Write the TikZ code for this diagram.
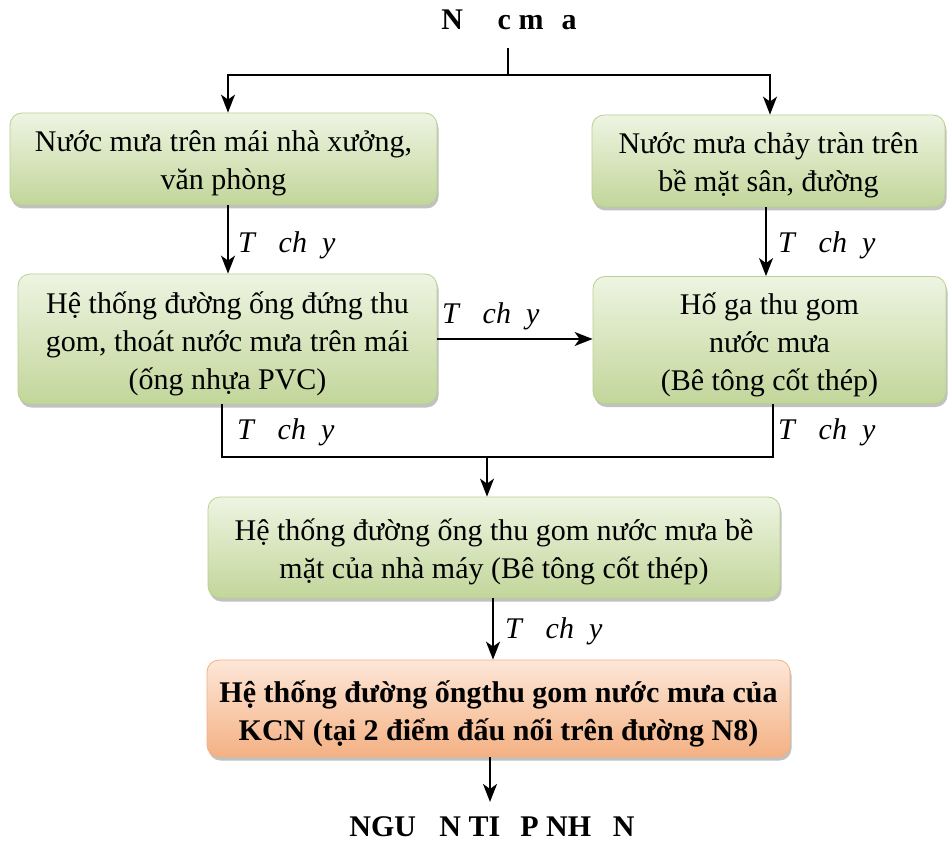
\documentclass[tikz,border=0pt]{standalone}
\usepackage{fontspec}
\setmainfont{Liberation Serif}
\usetikzlibrary{arrows.meta,shadows,calc}

\definecolor{gtop}{HTML}{EEF4E2}
\definecolor{gbot}{HTML}{C2D69A}
\definecolor{gedge}{HTML}{B9D090}
\definecolor{otop}{HTML}{FDE7D8}
\definecolor{obot}{HTML}{F4B183}
\definecolor{oedge}{HTML}{F2B084}

\tikzset{
  boxbase/.style={rounded corners=12pt, inner sep=0pt, line width=0.8pt,
    drop shadow={shadow xshift=1.5pt, shadow yshift=-3.5pt, opacity=0.35, fill=black!70}},
  greenbox/.style={boxbase, draw=gedge, top color=gtop, bottom color=gbot},
  orangebox/.style={boxbase, draw=oedge, top color=otop, bottom color=obot},
  boxtext/.style={align=center, inner sep=0pt, font=\fontsize{30}{38}\selectfont},
  boldtext/.style={boxtext, font=\fontsize{30}{38}\selectfont\bfseries},
  ttl/.style={font=\fontsize{30}{36}\selectfont\bfseries, inner sep=0pt},
  flowlab/.style={font=\fontsize{30}{36}\selectfont\itshape, anchor=base west, inner sep=0pt},
  ln/.style={line width=1.8pt},
  arr/.style={ln, -{Stealth[length=18pt,width=14pt,inset=5pt]}}
}

\begin{document}
\begin{tikzpicture}[x=1pt,y=-1pt]
\useasboundingbox (0,0) rectangle (949,842);

% heading and outlet
\node[ttl, anchor=base] (title) at (509,30) {N\hphantom{ướ}c m\hphantom{ư}a};
\node[ttl, anchor=base] (outlet) at (492,836) {NGU\hphantom{Ồ}N TI\hphantom{Ế}P NH\hphantom{Ậ}N};

% process boxes
\node[greenbox, minimum width=427pt, minimum height=92pt] (b1) at (223.5,159) {};
\node[greenbox, minimum width=353pt, minimum height=92pt] (b2) at (768.5,161) {};
\node[greenbox, minimum width=419pt, minimum height=130pt] (b3) at (227.5,339) {};
\node[greenbox, minimum width=353pt, minimum height=127pt] (b4) at (769.5,340) {};
\node[greenbox, minimum width=572pt, minimum height=101pt] (b5) at (494,547.5) {};
\node[orangebox, minimum width=583pt, minimum height=97pt] (b6) at (498.5,708.5) {};

% box texts, set slightly below the box centres
\node[boxtext] (t1) at ($(b1.center)+(0,4)$) {Nước mưa trên mái nhà xưởng,\\văn phòng};
\node[boxtext] (t2) at ($(b2.center)+(0,4)$) {Nước mưa chảy tràn trên\\bề mặt sân, đường};
\node[boxtext] (t3) at ($(b3.center)+(0,5)$) {Hệ thống đường ống đứng thu\\gom, thoát nước mưa trên mái\\(ống nhựa PVC)};
\node[boxtext] (t4) at ($(b4.center)+(0,5)$) {Hố ga thu gom\\nước mưa\\(Bê tông cốt thép)};
\node[boxtext] (t5) at ($(b5.center)+(0,4)$) {Hệ thống đường ống thu gom nước mưa bề\\mặt của nhà máy (Bê tông cốt thép)};
\node[boldtext] (t6) at ($(b6.center)+(0,5)$) {Hệ thống đường ốngthu gom nước mưa của\\KCN (tại 2 điểm đấu nối trên đường N8)};

% connector columns and junctions
\coordinate (split) at (508,75);
\coordinate (colA) at (228,0);
\coordinate (colB) at (770,0);
\coordinate (colC) at (766,0);
\coordinate (colD) at (222,0);
\coordinate (colE) at (773,0);
\coordinate (merge) at (487,457);
\coordinate (colF) at (493,0);
\coordinate (colG) at (490,0);

% connectors
\draw[ln] ($(title.south)+(-1,18)$) -- (split);
\draw[arr] (split) -| (b1.north -| colA);
\draw[arr] (split) -| (b2.north -| colB);
\draw[arr] (b1.south -| colA) -- (b3.north -| colA);
\draw[arr] (b2.south -| colC) -- (b4.north -| colC);
\draw[arr] (b3.east) -- (b3.east -| b4.west);
\draw[ln] (b3.south -| colD) -- (colD |- merge) -- (colE |- merge) -- (b4.south -| colE);
\draw[arr] (merge) -- (b5.north -| merge);
\draw[arr] (b5.south -| colF) -- (b6.north -| colF);
\draw[arr] (b6.south -| colG) -- ($(outlet.north -| colG)+(0,-14)$);

% flow labels
\node[flowlab] (l1) at (238,252) {T\hphantom{ự} ch\hphantom{ả}y};
\node[flowlab] (l2) at (778,252) {T\hphantom{ự} ch\hphantom{ả}y};
\node[flowlab] (l3) at (442,323) {T\hphantom{ự} ch\hphantom{ả}y};
\node[flowlab] (l4) at (237,439) {T\hphantom{ự} ch\hphantom{ả}y};
\node[flowlab] (l5) at (778,439) {T\hphantom{ự} ch\hphantom{ả}y};
\node[flowlab] (l6) at (505,638) {T\hphantom{ự} ch\hphantom{ả}y};
\end{tikzpicture}
\end{document}
